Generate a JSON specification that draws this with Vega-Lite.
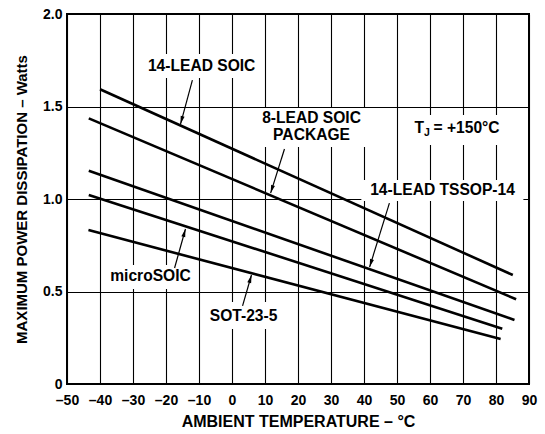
{
  "$schema": "https://vega.github.io/schema/vega-lite/v6.json",
  "width": 462,
  "height": 370,
  "autosize": {"type": "none"},
  "padding": {"left": 67, "top": 14, "right": 16, "bottom": 50},
  "background": "white",
  "config": {
    "view": {"stroke": "black", "strokeWidth": 2},
    "font": "Liberation Sans",
    "text": {"font": "Liberation Sans", "fontWeight": "bold", "fontSize": 15.6, "color": "black"},
    "axis": {
      "labelFont": "Liberation Sans",
      "labelFontWeight": "bold",
      "labelFontSize": 14,
      "labelColor": "black",
      "titleFont": "Liberation Sans",
      "titleFontWeight": "bold",
      "titleFontSize": 15,
      "titleColor": "black",
      "gridColor": "black",
      "gridOpacity": 1,
      "gridWidth": 1.1,
      "ticks": false,
      "tickSize": 0,
      "domain": false
    }
  },
  "datasets": {
    "curves": [
      {"series": "14-LEAD SOIC", "x": -40, "y": 1.593},
      {"series": "14-LEAD SOIC", "x": 85.1, "y": 0.589},
      {"series": "8-LEAD SOIC", "x": -43.4, "y": 1.436},
      {"series": "8-LEAD SOIC", "x": 86.1, "y": 0.458},
      {"series": "14-LEAD TSSOP-14", "x": -43.4, "y": 1.153},
      {"series": "14-LEAD TSSOP-14", "x": 85.6, "y": 0.346},
      {"series": "microSOIC", "x": -43.4, "y": 1.022},
      {"series": "microSOIC", "x": 81.9, "y": 0.299},
      {"series": "SOT-23-5", "x": -43.5, "y": 0.832},
      {"series": "SOT-23-5", "x": 81.4, "y": 0.243}
    ],
    "boxes": [
      {"box": "14-LEAD SOIC", "x": -27.1, "x2": 9.0, "y": 1.784, "y2": 1.654},
      {"box": "8-LEAD SOIC", "x": 7.1, "x2": 41.1, "y": 1.492, "y2": 1.281},
      {"box": "TJ", "x": 53.8, "x2": 84.7, "y": 1.454, "y2": 1.292},
      {"box": "TSSOP", "x": 39.2, "x2": 88.3, "y": 1.103, "y2": 0.989},
      {"box": "microSOIC", "x": -38.3, "x2": -11.1, "y": 0.643, "y2": 0.514},
      {"box": "SOT-23-5", "x": -8.3, "x2": 15.3, "y": 0.443, "y2": 0.297}
    ],
    "labels": [
      {"label": "14-LEAD SOIC", "x": -9.2, "y": 1.719},
      {"label": "8-LEAD SOIC", "x": 24.1, "y": 1.438},
      {"label": "PACKAGE", "x": 24.1, "y": 1.346},
      {"label": "14-LEAD TSSOP-14", "x": 63.8, "y": 1.049},
      {"label": "microSOIC", "x": -24.7, "y": 0.584},
      {"label": "SOT-23-5", "x": 3.5, "y": 0.368}
    ],
    "arrows": [
      {"arrow": "14-LEAD SOIC", "x": -12.0, "y": 1.643, "x2": -15.6, "y2": 1.405},
      {"arrow": "8-LEAD SOIC", "x": 15.9, "y": 1.270, "x2": 11.7, "y2": 1.032},
      {"arrow": "TSSOP", "x": 47.7, "y": 0.978, "x2": 41.7, "y2": 0.632},
      {"arrow": "microSOIC", "x": -17.4, "y": 0.627, "x2": -14.1, "y2": 0.838},
      {"arrow": "SOT-23-5", "x": 3.2, "y": 0.422, "x2": 5.9, "y2": 0.589}
    ]
  },
  "encoding": {
    "x": {
      "field": "x",
      "type": "quantitative",
      "scale": {"domain": [-50, 90], "nice": false, "zero": false},
      "axis": {
        "title": "AMBIENT TEMPERATURE – °C",
        "titleFontSize": 16,
        "values": [-50, -40, -30, -20, -10, 0, 10, 20, 30, 40, 50, 60, 70, 80, 90],
        "labelExpr": "datum.value < 0 ? '–' + abs(datum.value) : '' + datum.value",
        "labelPadding": 9,
        "titlePadding": 6,
        "labelFlush": false
      }
    },
    "y": {
      "field": "y",
      "type": "quantitative",
      "scale": {"domain": [0, 2], "nice": false},
      "axis": {
        "title": "MAXIMUM POWER DISSIPATION – Watts",
        "values": [0, 0.5, 1, 1.5, 2],
        "labelExpr": "datum.value == 0 ? '0' : format(datum.value, '.1f')",
        "labelPadding": 5,
        "titlePadding": 13,
        "labelFlush": false
      }
    }
  },
  "layer": [
    {
      "data": {"name": "boxes"},
      "mark": {"type": "rect", "fill": "white", "stroke": null},
      "encoding": {"x2": {"field": "x2"}, "y2": {"field": "y2"}}
    },
    {
      "data": {"name": "curves"},
      "mark": {"type": "line", "color": "black", "strokeWidth": 2.6},
      "encoding": {"detail": {"field": "series", "type": "nominal"}}
    },
    {
      "data": {"name": "arrows"},
      "mark": {"type": "rule", "color": "black", "strokeWidth": 1.2},
      "encoding": {"x2": {"field": "x2"}, "y2": {"field": "y2"}}
    },
    {
      "data": {"name": "arrows"},
      "transform": [{"filter": "datum.arrow == '14-LEAD SOIC'"}],
      "mark": {"type": "point", "shape": "M0,0L0.45,1.8L-0.45,1.8Z", "filled": true, "color": "black", "opacity": 1, "size": 80, "angle": 195.3},
      "encoding": {"x": {"field": "x2", "type": "quantitative"}, "y": {"field": "y2", "type": "quantitative"}}
    },
    {
      "data": {"name": "arrows"},
      "transform": [{"filter": "datum.arrow == '8-LEAD SOIC'"}],
      "mark": {"type": "point", "shape": "M0,0L0.45,1.8L-0.45,1.8Z", "filled": true, "color": "black", "opacity": 1, "size": 80, "angle": 197.6},
      "encoding": {"x": {"field": "x2", "type": "quantitative"}, "y": {"field": "y2", "type": "quantitative"}}
    },
    {
      "data": {"name": "arrows"},
      "transform": [{"filter": "datum.arrow == 'TSSOP'"}],
      "mark": {"type": "point", "shape": "M0,0L0.45,1.8L-0.45,1.8Z", "filled": true, "color": "black", "opacity": 1, "size": 80, "angle": 197.4},
      "encoding": {"x": {"field": "x2", "type": "quantitative"}, "y": {"field": "y2", "type": "quantitative"}}
    },
    {
      "data": {"name": "arrows"},
      "transform": [{"filter": "datum.arrow == 'microSOIC'"}],
      "mark": {"type": "point", "shape": "M0,0L0.45,1.8L-0.45,1.8Z", "filled": true, "color": "black", "opacity": 1, "size": 80, "angle": 15.8},
      "encoding": {"x": {"field": "x2", "type": "quantitative"}, "y": {"field": "y2", "type": "quantitative"}}
    },
    {
      "data": {"name": "arrows"},
      "transform": [{"filter": "datum.arrow == 'SOT-23-5'"}],
      "mark": {"type": "point", "shape": "M0,0L0.45,1.8L-0.45,1.8Z", "filled": true, "color": "black", "opacity": 1, "size": 80, "angle": 16.2},
      "encoding": {"x": {"field": "x2", "type": "quantitative"}, "y": {"field": "y2", "type": "quantitative"}}
    },
    {
      "data": {"name": "labels"},
      "mark": {"type": "text", "align": "center", "baseline": "middle"},
      "encoding": {"text": {"field": "label"}}
    },
    {
      "data": {"values": [{"part": "T", "x": 55.3, "y": 1.384}]},
      "mark": {"type": "text", "align": "left", "baseline": "middle"},
      "encoding": {"text": {"field": "part"}}
    },
    {
      "data": {"values": [{"part": "J", "x": 55.3, "y": 1.384}]},
      "mark": {"type": "text", "align": "left", "baseline": "middle", "fontSize": 10.5, "dx": 9.5, "dy": 5},
      "encoding": {"text": {"field": "part"}}
    },
    {
      "data": {"values": [{"part": "= +150°C", "x": 55.3, "y": 1.384}]},
      "mark": {"type": "text", "align": "left", "baseline": "middle", "dx": 19}, 
      "encoding": {"text": {"field": "part"}}
    }
  ]
}
